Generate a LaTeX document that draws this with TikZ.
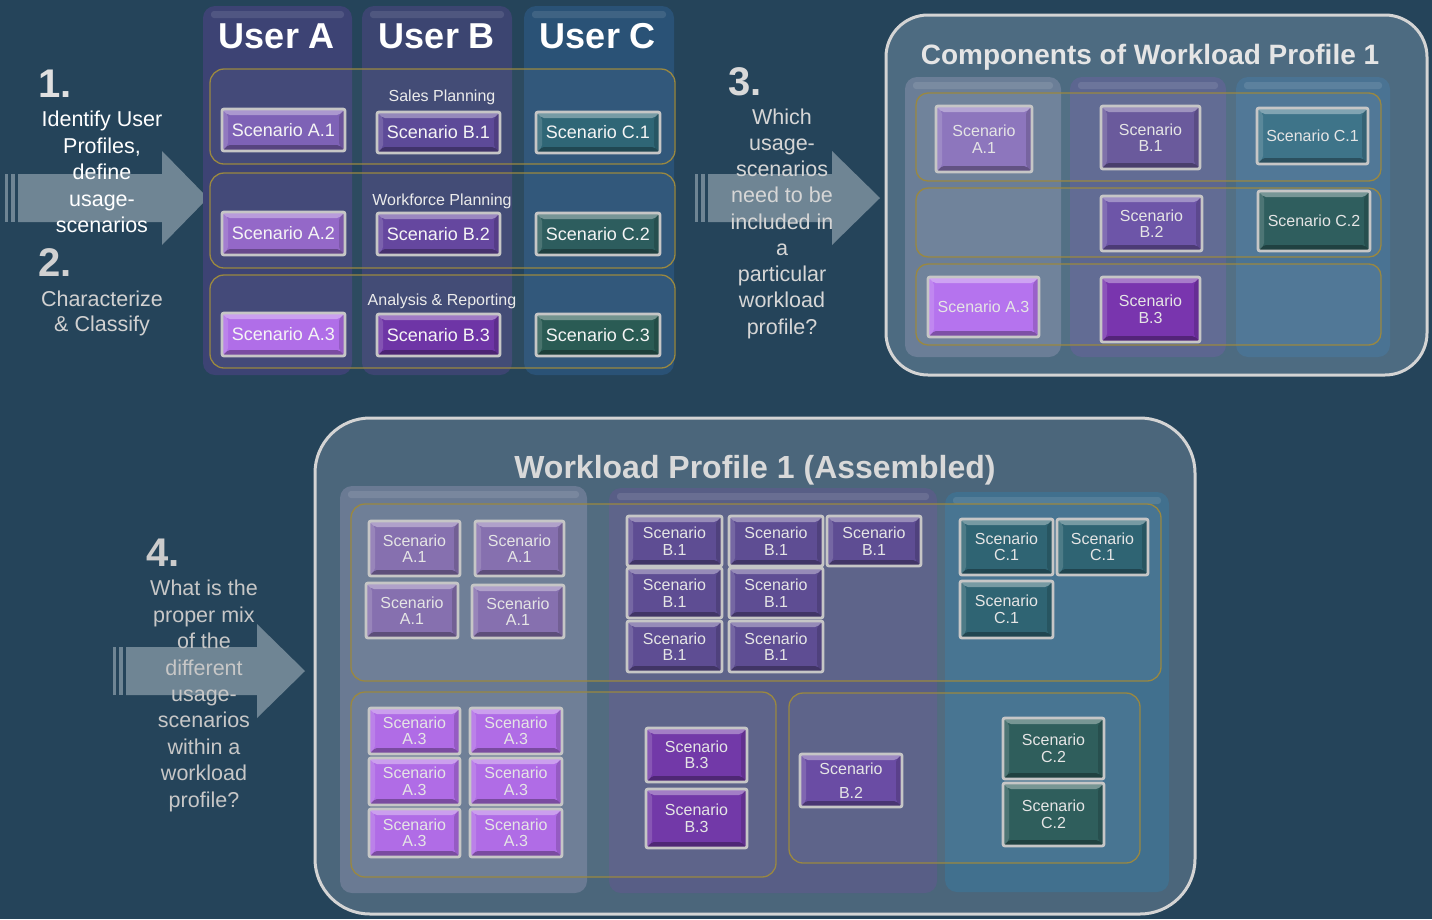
\documentclass[tikz,border=0pt]{standalone}
\usepackage{fontspec}
\setmainfont{Liberation Sans}
\setsansfont{Liberation Sans}
\definecolor{bg}{HTML}{25445A}
\definecolor{arr}{HTML}{6F8594}
\definecolor{gold}{HTML}{9A8840}
\definecolor{rim}{HTML}{C6C6C6}
\definecolor{prim}{HTML}{D4D4D4}
% top-left
\definecolor{colA}{HTML}{3D4374}
\definecolor{colB}{HTML}{3C4571}
\definecolor{colC}{HTML}{2A5276}
\definecolor{tA1}{HTML}{7E62B6}
\definecolor{tA2}{HTML}{9468C8}
\definecolor{tA3}{HTML}{B06EE8}
\definecolor{tB1}{HTML}{5D4A98}
\definecolor{tB2}{HTML}{65479F}
\definecolor{tB3}{HTML}{6E35A6}
\definecolor{tC1}{HTML}{2F6676}
\definecolor{tC2}{HTML}{2D5D5E}
\definecolor{tC3}{HTML}{2A5B54}
% components
\definecolor{cpan}{HTML}{4D6B81}
\definecolor{ccolA}{HTML}{6B7E97}
\definecolor{ccolB}{HTML}{5C6690}
\definecolor{ccolC}{HTML}{4A7393}
\definecolor{cA1}{HTML}{8D76BD}
\definecolor{cB1}{HTML}{6A5A9C}
\definecolor{cC1}{HTML}{3E7489}
\definecolor{cB2}{HTML}{6D55A8}
\definecolor{cC2}{HTML}{2F5E5E}
\definecolor{cA3}{HTML}{B573EE}
\definecolor{cB3}{HTML}{7935AE}
% assembled
\definecolor{apan}{HTML}{4B667B}
\definecolor{acolA}{HTML}{6A7A93}
\definecolor{acolB}{HTML}{585E86}
\definecolor{acolC}{HTML}{41708E}
\definecolor{aA1}{HTML}{8670AF}
\definecolor{aB1}{HTML}{5E4D93}
\definecolor{aC1}{HTML}{2F6473}
\definecolor{aA3}{HTML}{B06CE6}
\definecolor{aB3}{HTML}{7239A8}
\definecolor{aB2}{HTML}{6A4CA4}
\definecolor{aC2}{HTML}{2F5E5C}

\tikzset{
  bevel/.style={path picture={
    \fill[white,opacity=.35] (path picture bounding box.north west) -- (path picture bounding box.north east) -- ([shift={(-6pt,-6pt)}]path picture bounding box.north east) -- ([shift={(6pt,-6pt)}]path picture bounding box.north west) -- cycle;
    \fill[black,opacity=.3] (path picture bounding box.south west) -- (path picture bounding box.south east) -- ([shift={(-6pt,6pt)}]path picture bounding box.south east) -- ([shift={(6pt,6pt)}]path picture bounding box.south west) -- cycle;
    \fill[white,opacity=.15] (path picture bounding box.north west) -- ([shift={(6pt,-6pt)}]path picture bounding box.north west) -- ([shift={(6pt,6pt)}]path picture bounding box.south west) -- (path picture bounding box.south west) -- cycle;
    \fill[black,opacity=.15] (path picture bounding box.north east) -- ([shift={(-6pt,-6pt)}]path picture bounding box.north east) -- ([shift={(-6pt,6pt)}]path picture bounding box.south east) -- (path picture bounding box.south east) -- cycle;
  }},
  scen/.style={rectangle, rounded corners=2pt, fill=#1, draw=rim, line width=2.8pt, text=white, align=center, inner sep=0pt, bevel},
  tlf/.style={font=\fontsize{18}{20}\selectfont, text=white!96!black},
  smf/.style={font=\fontsize{16}{16.5}\selectfont, text=white!90!black},
  colbox/.style={rounded corners=12pt, fill=#1},
  band/.style={rounded corners=14pt, draw=gold, line width=1.3pt, fill=white, fill opacity=0.04},
  panel/.style={rounded corners=#1, fill=panelfill, draw=prim, line width=3pt},
  lbl/.style={font=\fontsize{16}{18}\selectfont, text=white!92!black},
  bignum/.style={font=\bfseries\fontsize{40}{44}\selectfont, anchor=west, inner sep=0pt},
  steptext/.style={font=\fontsize{21.5}{26.4}\selectfont, align=center, inner sep=0pt},
}
\newcommand\scn[8]{\node[scen=#6, #7, minimum width={#4-#2-2}, minimum height={#5-#3-2}] (#1) at ({(#2+#4)/2},{(#3+#5)/2}) {#8};}
\newcommand\bigarrow[6]{%
  \fill[arr] (#1,#4-#5) rectangle (#1+3,#4+#5);
  \fill[arr] (#1+6,#4-#5) rectangle (#1+10,#4+#5);
  \fill[arr] (#1+13,#4-#5) -- (#2,#4-#5) -- (#2,#4-#6) -- (#3,#4) -- (#2,#4+#6) -- (#2,#4+#5) -- (#1+13,#4+#5) -- cycle;}
\newcommand\colhi[3]{\fill[white,opacity=.1,rounded corners=3pt] (#1+8,#3+5) rectangle (#2-8,#3+12);}

\begin{document}
\begin{tikzpicture}[x=1pt,y=-1pt]
\fill[bg] (0,0) rectangle (1432,919);
\useasboundingbox (0,0) rectangle (1432,919);

% ---------- arrows ----------
\bigarrow{5}{162}{208}{198}{24}{47}
\bigarrow{695}{832}{880}{198}{24}{47}
\bigarrow{113}{257}{305}{671}{24}{47}

% ---------- top-left matrix ----------
\fill[colbox=colA] (203,6) rectangle (352,375); \colhi{203}{352}{6}
\fill[colbox=colB] (362,6) rectangle (512,375); \colhi{362}{512}{6}
\fill[colbox=colC] (524,6) rectangle (674,375); \colhi{524}{674}{6}
\path[band] (210,69) rectangle (675,164);
\path[band] (210,173) rectangle (675,268);
\path[band] (210,275) rectangle (675,368);

\node[font=\bfseries\fontsize{36}{40}\selectfont, text=white] (ua) at (277,36) {User A};
\node[font=\bfseries\fontsize{36}{40}\selectfont, text=white] (ub) at (437,36) {User B};
\node[font=\bfseries\fontsize{36}{40}\selectfont, text=white] (uc) at (598,36) {User C};

\node[lbl] (sp) at (442,97) {Sales Planning};
\node[lbl] (wp) at (442,201) {Workforce Planning};
\node[lbl] (ar) at (442,301) {Analysis \& Reporting};

\scn{ta1}{221}{108}{346}{152}{tA1}{tlf}{Scenario A.1}
\scn{tb1}{376}{111}{501}{154}{tB1}{tlf}{Scenario B.1}
\scn{tc1}{535}{111}{661}{154}{tC1}{tlf}{Scenario C.1}
\scn{ta2}{221}{211}{346}{256}{tA2}{tlf}{Scenario A.2}
\scn{tb2}{376}{212}{501}{256}{tB2}{tlf}{Scenario B.2}
\scn{tc2}{535}{212}{661}{256}{tC2}{tlf}{Scenario C.2}
\scn{ta3}{221}{312}{346}{357}{tA3}{tlf}{Scenario A.3}
\scn{tb3}{376}{313}{501}{357}{tB3}{tlf}{Scenario B.3}
\scn{tc3}{535}{313}{661}{357}{tC3}{tlf}{Scenario C.3}

% ---------- step texts ----------
\node[bignum, text=white!88!black] (n1) at (38,84) {1.};
\node[steptext, text=white] (t1) at (102,172) {Identify User\\Profiles,\\define\\usage-\\scenarios};
\node[bignum, text=white!82!black] (n2) at (38,263) {2.};
\node[steptext, text=white!82!black, font=\fontsize{21.5}{25}\selectfont] (t2) at (102,313) {Characterize\\\& Classify};
\node[bignum, text=white!85!black] (n3) at (728,82) {3.};
\node[steptext, text=white!84!black, font=\fontsize{21.5}{26.25}\selectfont] (t3) at (782,223.5) {Which\\usage-\\scenarios\\need to be\\included in\\a\\particular\\workload\\profile?};
\node[bignum, text=white!80!black] (n4) at (146,553) {4.};
\node[steptext, text=white!78!black] (t4) at (204,696) {What is the\\proper mix\\of the\\different\\usage-\\scenarios\\within a\\workload\\profile?};

% ---------- components panel ----------
\colorlet{panelfill}{cpan}
\path[panel=42pt] (886,15) rectangle (1427,375);
\node[font=\bfseries\fontsize{28}{32}\selectfont, text=white!90!black] (ct) at (1150,57) {Components of Workload Profile 1};
\fill[colbox=ccolA] (905,77) rectangle (1061,357); \colhi{905}{1061}{77}
\fill[colbox=ccolB] (1070,77) rectangle (1226,357); \colhi{1070}{1226}{77}
\fill[colbox=ccolC] (1236,77) rectangle (1390,357); \colhi{1236}{1390}{77}
\path[band,rounded corners=12pt] (916,93) rectangle (1381,181);
\path[band,rounded corners=12pt] (916,188) rectangle (1381,257);
\path[band,rounded corners=12pt] (916,264) rectangle (1381,345);
\scn{ca1}{935}{105}{1033}{173}{cA1}{smf}{Scenario\\A.1}
\scn{cb1}{1100}{105}{1201}{170}{cB1}{smf}{Scenario\\B.1}
\scn{cc1}{1256}{107}{1369}{165}{cC1}{smf}{Scenario C.1}
\scn{cb2}{1100}{195}{1203}{252}{cB2}{smf}{Scenario\\B.2}
\scn{cc2}{1257}{190}{1371}{252}{cC2}{smf}{Scenario C.2}
\scn{ca3}{927}{276}{1040}{338}{cA3}{smf}{Scenario A.3}
\scn{cb3}{1100}{276}{1201}{343}{cB3}{smf}{Scenario\\B.3}

% ---------- assembled panel ----------
\colorlet{panelfill}{apan}
\path[panel=55pt] (315,418) rectangle (1195,914);
\node[font=\bfseries\fontsize{32}{36}\selectfont, text=white!85!black] (at) at (755,470) {Workload Profile 1 (Assembled)};
\fill[colbox=acolA] (340,486) rectangle (587,893); \colhi{340}{587}{486}
\fill[colbox=acolB] (609,488) rectangle (937,893); \colhi{609}{937}{488}
\fill[colbox=acolC] (945,492) rectangle (1169,892); \colhi{945}{1169}{492}
\path[band] (351,504) rectangle (1161,681);
\path[band] (351,692) rectangle (776,877);
\path[band] (789,693) rectangle (1140,863);

\scn{aa1a}{368}{520}{461}{577}{aA1}{smf}{Scenario\\A.1}
\scn{aa1b}{474}{520}{565}{577}{aA1}{smf}{Scenario\\A.1}
\scn{aa1c}{365}{582}{459}{639}{aA1}{smf}{Scenario\\A.1}
\scn{aa1d}{471}{584}{565}{639}{aA1}{smf}{Scenario\\A.1}

\scn{aa3a}{368}{707}{461}{755}{aA3}{smf}{Scenario\\A.3}
\scn{aa3b}{469}{707}{563}{755}{aA3}{smf}{Scenario\\A.3}
\scn{aa3c}{368}{757}{461}{806}{aA3}{smf}{Scenario\\A.3}
\scn{aa3d}{469}{757}{563}{806}{aA3}{smf}{Scenario\\A.3}
\scn{aa3e}{368}{808}{461}{858}{aA3}{smf}{Scenario\\A.3}
\scn{aa3f}{469}{808}{563}{858}{aA3}{smf}{Scenario\\A.3}

\scn{ab1a}{626}{515}{723}{567}{aB1}{smf}{Scenario\\B.1}
\scn{ab1b}{728}{515}{824}{567}{aB1}{smf}{Scenario\\B.1}
\scn{ab1c}{826}{515}{922}{567}{aB1}{smf}{Scenario\\B.1}
\scn{ab1d}{626}{567}{723}{619}{aB1}{smf}{Scenario\\B.1}
\scn{ab1e}{728}{567}{824}{619}{aB1}{smf}{Scenario\\B.1}
\scn{ab1f}{626}{620}{723}{673}{aB1}{smf}{Scenario\\B.1}
\scn{ab1g}{728}{620}{824}{673}{aB1}{smf}{Scenario\\B.1}

\scn{ab3a}{645}{727}{748}{783}{aB3}{smf}{Scenario\\B.3}
\scn{ab3b}{645}{788}{748}{849}{aB3}{smf}{Scenario\\B.3}
\scn{ab2}{799}{753}{903}{808}{aB2}{smf}{Scenario\\[7pt]B.2}

\scn{ac1a}{959}{518}{1054}{576}{aC1}{smf}{Scenario\\C.1}
\scn{ac1b}{1056}{518}{1149}{576}{aC1}{smf}{Scenario\\C.1}
\scn{ac1c}{959}{580}{1054}{639}{aC1}{smf}{Scenario\\C.1}
\scn{ac2a}{1002}{717}{1105}{780}{aC2}{smf}{Scenario\\C.2}
\scn{ac2b}{1002}{782}{1105}{847}{aC2}{smf}{Scenario\\C.2}
\end{tikzpicture}
\end{document}
